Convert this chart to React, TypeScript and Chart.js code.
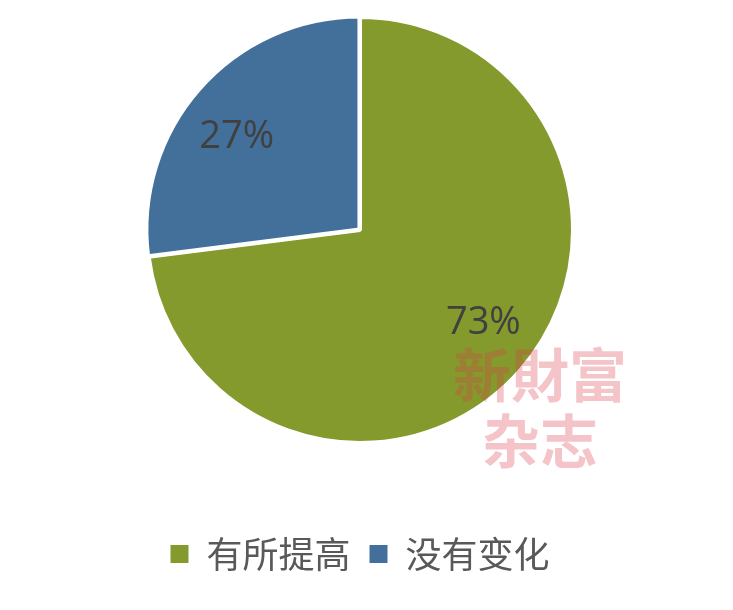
import React, { useEffect, useRef } from "react";
import { Chart, registerables } from "chart.js";

Chart.register(...registerables);

const categories = ["有所提高", "没有变化"];
const values = [73, 27];
const percentLabels = ["73%", "27%"];
const sliceColors = ["#849A2C", "#436F9B"];
const sliceOffsets = [0, 3];
const watermarkLines = ["新財富", "杂志"];

const SHIFT = 57;

const percentLabelPlugin = {
  id: "percentLabels",
  afterDatasetsDraw(chart: any) {
    const meta = chart.getDatasetMeta(0);
    const ctx = chart.ctx;
    ctx.save();
    ctx.font = "38px 'Open Sans', 'Noto Sans', sans-serif";
    ctx.fillStyle = "#404040";
    ctx.textAlign = "center";
    ctx.textBaseline = "middle";
    meta.data.forEach((arc: any, i: number) => {
      const p = arc.getProps(["x", "y", "startAngle", "endAngle", "outerRadius"], true);
      const mid = (p.startAngle + p.endAngle) / 2 - 0.077;
      const r = p.outerRadius * 0.725;
      ctx.fillText(percentLabels[i], p.x + Math.cos(mid) * r, p.y + Math.sin(mid) * r);
    });
    ctx.restore();
  },
};

const watermarkPlugin = {
  id: "watermark",
  afterDraw(chart: any) {
    const ctx = chart.ctx;
    ctx.save();
    ctx.font = "bold 58px 'Noto Sans CJK SC', sans-serif";
    ctx.fillStyle = "rgba(220,60,75,0.3)";
    ctx.textAlign = "center";
    ctx.textBaseline = "middle";
    ctx.fillText(watermarkLines[0], 540, 375 + SHIFT);
    ctx.fillText(watermarkLines[1], 540, 441 + SHIFT);
    ctx.restore();
  },
};

export default function App() {
  const canvasRef = useRef<HTMLCanvasElement>(null);

  useEffect(() => {
    if (!canvasRef.current) return;
    const chart = new Chart(canvasRef.current, {
      type: "pie",
      data: {
        labels: categories,
        datasets: [
          {
            data: values,
            backgroundColor: sliceColors,
            borderColor: "#FFFFFF",
            borderWidth: 4,
            offset: sliceOffsets,
            radius: 213,
          } as any,
        ],
      },
      options: {
        animation: false,
        responsive: true,
        maintainAspectRatio: false,
        layout: { padding: { top: 0, bottom: 28, left: 0, right: 13 } },
        plugins: {
          tooltip: { enabled: false },
          legend: {
            position: "bottom",
            labels: {
              boxWidth: 18,
              boxHeight: 18,
              padding: 19,
              color: "#595959",
              font: { size: 36, family: "'Microsoft YaHei', 'Noto Sans CJK SC', sans-serif" },
              generateLabels(chart: any) {
                const items = Chart.overrides.pie.plugins.legend.labels.generateLabels(chart);
                return items.map((it: any) => ({ ...it, lineWidth: 0, strokeStyle: "rgba(0,0,0,0)" }));
              },
            },
          },
        },
      },
      plugins: [percentLabelPlugin, watermarkPlugin],
    });
    return () => chart.destroy();
  }, []);

  return (
    <div style={{ position: "absolute", left: 0, top: 0, width: 733, height: 610, overflow: "hidden", background: "#fff" }}>
      <div style={{ position: "absolute", left: 0, top: -SHIFT, width: 733, height: 610 + SHIFT }}>
        <canvas ref={canvasRef} />
      </div>
    </div>
  );
}
